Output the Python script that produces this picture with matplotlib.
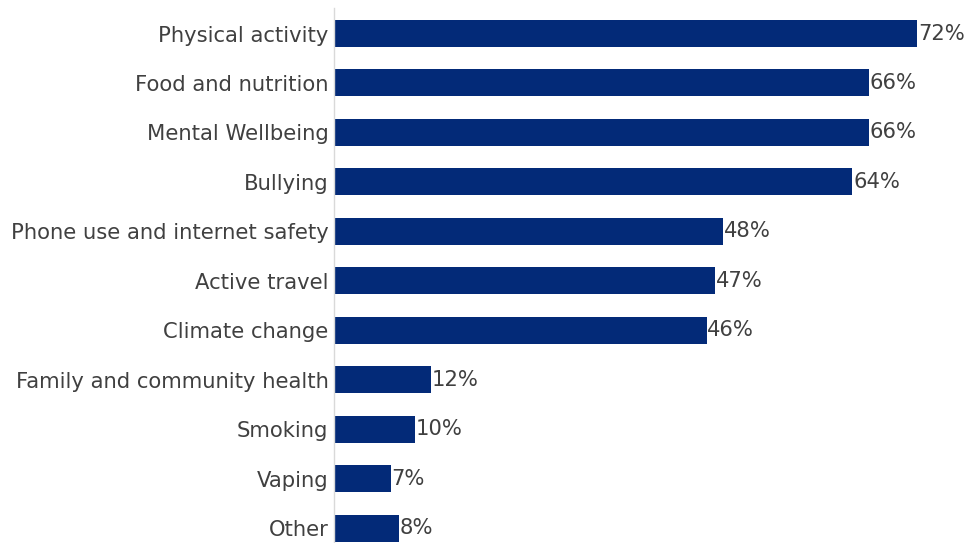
import matplotlib.pyplot as plt

topics = ['Physical activity', 'Food and nutrition', 'Mental Wellbeing', 'Bullying',
          'Phone use and internet safety', 'Active travel', 'Climate change',
          'Family and community health', 'Smoking', 'Vaping', 'Other']
pct = [72, 66, 66, 64, 48, 47, 46, 12, 10, 7, 8]

plt.rcParams['font.family'] = ['DejaVu Sans']

fig = plt.figure(figsize=(9.72, 5.43), dpi=100)
ax = fig.add_axes([334 / 972, 0, 1 - 334 / 972, 1 - 8 / 543])

pos = list(range(len(topics)))
ax.barh(pos, pct, height=0.546, color='#032a78')

# value labels just past the end of each bar
for y, v in zip(pos, pct):
    ax.text(v + 0.1, y, f'{v}%', va='center', ha='left', fontsize=15.2, color='#404040')

ax.set_xlim(0, 638 / 8.1)
ax.set_ylim(10 + 0.303, -0.516)
ax.set_yticks(pos)
ax.set_yticklabels(topics, fontsize=15.2, color='#404040')
ax.tick_params(axis='y', length=0, pad=4)
ax.set_xticks([])

for s in ['top', 'right', 'bottom']:
    ax.spines[s].set_visible(False)
ax.spines['left'].set_color('#d9d9d9')
ax.spines['left'].set_linewidth(1)

fig.savefig('out.png', dpi=100)
